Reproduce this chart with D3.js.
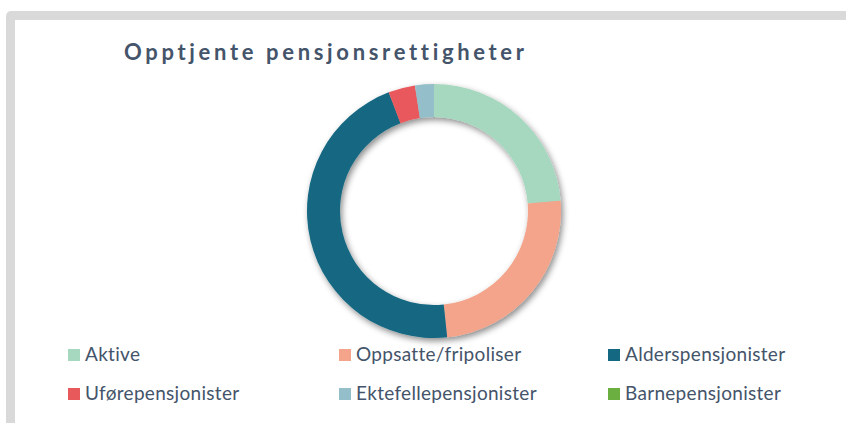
<!DOCTYPE html>
<html>
<head>
<meta charset="utf-8">
<script src="https://cdn.jsdelivr.net/npm/d3@7"></script>
<style>
    body { margin: 0; background: #ffffff; }
    svg { display: block; }
    text { font-variant-ligatures: none; }
</style>
</head>
<body>
<svg id="chart" width="846" height="423"></svg>
<script>
const categories = ["Aktive", "Oppsatte/fripoliser", "Alderspensjonister",
                    "Uførepensjonister", "Ektefellepensjonister", "Barnepensjonister"];
const shares = [23.7, 24.6, 45.8, 3.4, 2.4, 0];
const colors = ["#a5d8bf", "#f3a48b", "#146882", "#e8595b", "#94bec9", "#6aaf3f"];

const title = "Opptjente pensjonsrettigheter";

const svg = d3.select("#chart");

// Gray frame round the chart area (runs off the right and bottom edges)
svg.append("rect")
    .attr("x", 6).attr("y", 11)
    .attr("width", 900).attr("height", 500)
    .attr("rx", 5)
    .attr("fill", "#d9d9d9");
svg.append("rect")
    .attr("x", 15).attr("y", 20)
    .attr("width", 900).attr("height", 500)
    .attr("fill", "#ffffff");

// Drop shadow for the ring
const defs = svg.append("defs");
defs.append("filter")
    .attr("id", "shadow")
    .attr("x", "-20%").attr("y", "-20%")
    .attr("width", "140%").attr("height", "140%")
    .append("feDropShadow")
        .attr("dx", 2).attr("dy", 3)
        .attr("stdDeviation", 3)
        .attr("flood-color", "#000")
        .attr("flood-opacity", 0.45);

// Title
svg.append("text")
    .attr("x", 124).attr("y", 60)
    .attr("textLength", 400)
    .attr("lengthAdjust", "spacing")
    .attr("font-family", "Lato, 'Open Sans', sans-serif")
    .attr("font-weight", "bold")
    .attr("font-size", 22)
    .attr("fill", "#44546a")
    .text(title);

// Donut
const cx = 434, cy = 211;
const pie = d3.pie().sort(null).value(d => d);
const arc = d3.arc().innerRadius(94).outerRadius(127);

const ring = svg.append("g")
    .attr("transform", "translate(" + cx + "," + cy + ")")
    .attr("filter", "url(#shadow)");

ring.selectAll("path")
    .data(pie(shares))
    .enter()
    .append("path")
        .attr("d", arc)
        .attr("fill", (d, i) => colors[i]);

// Legend: 3 columns, 2 rows
const colX = [68, 339, 608];
const rowY = [361, 400];

const legend = svg.append("g");
const items = legend.selectAll("g")
    .data(categories)
    .enter()
    .append("g")
        .attr("transform", (d, i) => "translate(" + colX[i % 3] + "," + rowY[Math.floor(i / 3)] + ")");

items.append("rect")
    .attr("x", 0).attr("y", -12)
    .attr("width", 12).attr("height", 12)
    .attr("fill", (d, i) => colors[i]);

items.append("text")
    .attr("x", 17).attr("y", 0)
    .attr("font-family", "Lato, 'Open Sans', sans-serif")
    .attr("font-size", 19)
    .attr("letter-spacing", 0.3)
    .attr("fill", "#44546a")
    .text(d => d);
</script>
</body>
</html>
